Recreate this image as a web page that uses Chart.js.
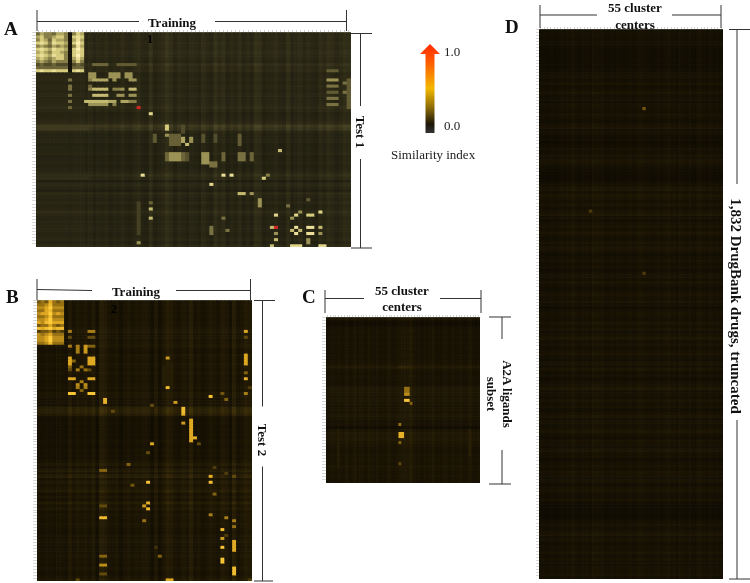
<!DOCTYPE html>
<html>
<head>
<meta charset="utf-8">
<script src="https://cdn.jsdelivr.net/npm/chart.js@4"></script>
<style>
    html, body { margin: 0; background: #fff; }
    #page { position: relative; width: 750px; height: 583px; overflow: hidden; }
    .panel { position: absolute; filter: blur(0.6px); }
    svg { position: absolute; left: 0; top: 0; }
    text { font-family: "Liberation Serif", serif; fill: #111; }
    .head { font-weight: bold; font-size: 13px; text-anchor: middle; }
    .letter { font-weight: bold; font-size: 19px; }
    .plain { font-size: 13px; fill: #222; }
</style>
</head>
<body>
<div id="page">
    <div class="panel" style="left:32px;top:30px;width:319px;height:217px"><canvas id="panel-a"></canvas></div>
    <div class="panel" style="left:33px;top:300px;width:219px;height:281px"><canvas id="panel-b"></canvas></div>
    <div class="panel" style="left:322px;top:315px;width:158px;height:168px"><canvas id="panel-c"></canvas></div>
    <div class="panel" style="left:536px;top:27px;width:187px;height:552px"><canvas id="panel-d"></canvas></div>
    <svg width="750" height="583" stroke="#333" stroke-width="1" fill="none">
        <defs>
            <linearGradient id="simGrad" x1="0" y1="0" x2="0" y2="1">
                <stop offset="0" stop-color="#ff2a00"/>
                <stop offset="0.2" stop-color="#ff5a00"/>
                <stop offset="0.5" stop-color="#f2b800"/>
                <stop offset="0.72" stop-color="#8a6a08"/>
                <stop offset="0.9" stop-color="#1c1608"/>
                <stop offset="1" stop-color="#333"/>
            </linearGradient>
        </defs>
        <!-- A -->
        <path d="M37 10V31M346.5 10V31M37 21.5H139M215 21.5H346.5"/>
        <path d="M351 33.5H372M360.5 33.5V106M360.5 159V248M351 248H372"/>
        <!-- B -->
        <path d="M37 279V300M250.5 279V300M37 289.5L92 290.5M176 290.5H250.5"/>
        <path d="M254 300.5H275M262.5 300.5V406.5M262.5 466.5V581M254 581H273"/>
        <!-- C -->
        <path d="M325 290V313M481 290V313M325 298.5H364M440 298.5H481"/>
        <path d="M489 317H511M502 317V339M502 450V484M489 484H511"/>
        <!-- D -->
        <path d="M540 5V28M721 5V28M540 15H597M672 15H721"/>
        <path d="M729 29.5H750M737 29.5V184M737 420V579M729 579H750"/>
        <!-- similarity arrow -->
        <path d="M430 44L440 54H434.5V133H425.5V54H420Z" fill="url(#simGrad)" stroke="none"/>
        <g stroke="none">
            <text class="letter" x="4" y="35">A</text>
            <text class="letter" x="6" y="303">B</text>
            <text class="letter" x="302" y="303">C</text>
            <text class="letter" x="505" y="33">D</text>
            <text class="head" x="172" y="27">Training</text>
            <text class="head" x="136" y="296">Training</text>
            <text class="plain" x="150" y="43" text-anchor="middle" style="font-weight:bold;fill:#000">1</text>
            <text class="plain" x="114" y="313" text-anchor="middle" style="font-weight:bold;fill:#000">2</text>
            <text class="head" x="402" y="295">55 cluster</text>
            <text class="head" x="402" y="311">centers</text>
            <text class="head" x="635" y="12">55 cluster</text>
            <text class="head" x="635" y="29">centers</text>
            <text class="head" transform="translate(355.5 132) rotate(90)">Test 1</text>
            <text class="head" transform="translate(258 440) rotate(90)">Test 2</text>
            <text class="head" transform="translate(503 394) rotate(90)">A2A ligands</text>
            <text class="head" transform="translate(487 394) rotate(90)">subset</text>
            <text class="head" style="font-size:15px" transform="translate(731 306) rotate(90)">1,832 DrugBank drugs, truncated</text>
            <text class="plain" x="444" y="56">1.0</text>
            <text class="plain" x="444" y="130">0.0</text>
            <text class="plain" x="391" y="159">Similarity index</text>
        </g>
    </svg>
</div>
<script>
// column and row background levels, patches are [col0, col1, row0, row1, value]
const aColShade = [.08,.08,.08,.08,.08,.08,.08,.08,.07,.08,.08,.08,
    .06,.08,.05,.07,.06,.08,.05,.07,.06,.09,.06,.05,.08,
    .1,.06,.05,.12,.05,.07,.09,.13,.1,.05,.09,.07,.05,.08,.07,
    .05,.1,.07,.05,.12,.08,.11,.05,.08,.06,.1,.05,.08,.05,.12,
    .11,.05,.07,.07,.09,.06,.05,.11,.05,.07,.09,.05,.08,.06,.05,.1,.07,.11,.09,.06,.08,.11,.1];
const aRowShade = [.08,.09,.08,.1,.09,.08,.1,.09,.08,.07,.12,.09,.1,
    .06,.07,.08,.06,.08,.07,.06,.08,.06,.07,.08,.1,
    .08,.05,.06,.07,.09,.16,.14,.07,.05,.05,.06,
    .04,.05,.05,.07,.04,.05,.06,.04,.05,.07,
    .11,.08,.02,.08,.06,.03,.09,.07,.05,.08,.05,
    .06,.1,.07,.05,.06,.05,.06,.07,.05,.06,.08,.05,.09];
const aBlock = ['465546650576','675567750787','576476650686','787587760797','565465650586','787687760797',
    '676577650787','787687750797','676567750686','565465550575','343343330343','444444440444','787787770787'];
const aPatches = [
    [14,17,10,10,.4],[20,24,10,10,.36],[13,14,13,14,.55],[18,20,13,14,.55],[22,23,13,14,.55],
    [14,17,15,15,.6],[13,13,15,15,.5],[19,19,15,15,.55],[23,24,15,15,.55],[13,13,17,17,.4],
    [14,17,18,18,.65],[13,13,18,18,.5],[19,20,18,18,.5],[21,21,18,18,.55],[23,24,18,18,.65],
    [14,17,20,20,.65],[20,21,20,20,.55],[23,24,20,20,.55],[12,14,22,22,.65],[15,17,22,22,.65],
    [18,19,22,22,.6],[21,22,22,22,.6],[23,24,22,22,.5],[13,14,23,23,.55],[15,17,23,23,.55],[19,19,23,23,.5],
    [8,8,15,15,.45],[8,8,17,18,.45],[8,8,20,20,.45],[8,8,22,22,.45],[8,8,24,24,.4],
    [72,74,12,12,.36],[72,74,15,15,.55],[72,74,17,17,.45],[72,74,19,19,.36],[72,74,21,21,.45],[72,74,23,23,.45],
    [76,76,16,16,.45],[76,76,19,19,.45],[77,77,15,24,.36],
    [25,25,24,24,1],[28,28,26,26,.75],[32,32,30,31,.7],[32,32,33,33,.55],[36,36,30,32,.3],
    [29,29,33,35,.35],[33,35,33,36,.38],[36,36,34,35,.6],[37,37,36,36,.65],[38,38,34,35,.55],
    [41,41,33,35,.32],[44,44,33,35,.3],[50,50,33,36,.36],
    [32,32,39,41,.4],[33,35,39,41,.55],[36,36,39,41,.4],[37,37,39,41,.32],[41,42,39,42,.55],
    [46,46,39,41,.4],[50,51,39,41,.45],[53,53,39,41,.4],[43,44,42,43,.45],
    [26,26,46,46,.8],[46,46,46,46,.8],[48,48,46,46,.8],[43,43,49,49,.75],[56,56,47,47,.7],[57,57,46,46,.5],
    [60,60,38,38,.65],[50,51,52,52,.65],[53,53,52,52,.55],[55,55,54,56,.55],
    [28,28,55,55,.4],[28,28,57,57,.65],[28,28,60,60,.65],[25,25,55,65,.26],[62,62,56,56,.45],[67,67,54,54,.36],
    [59,59,59,59,.75],[59,59,63,63,1],[58,58,63,63,.65],[59,59,65,65,.55],[58,58,69,69,.65],[59,59,67,67,.65],
    [64,64,59,59,.75],[63,63,60,60,.55],[65,65,58,58,.55],[64,64,63,63,.8],[63,63,64,64,.65],[65,65,64,64,.65],[64,64,65,65,.8],
    [67,68,59,59,.7],[70,70,58,58,.75],[67,68,63,63,.8],[67,68,65,65,.8],[70,70,63,63,.65],[70,70,65,65,.55],
    [63,65,69,69,.75],[67,67,67,68,.55],[70,71,69,69,.75],[43,43,63,65,.45],[47,47,64,64,.45],[25,25,68,68,.55],[46,46,60,60,.45],
    [0,12,30,31,.24],[0,12,46,47,.18]
];

const bColShade = [.05,.04,.06,.05,.04,.06,.05,.04,
    .1,.05,.08,.06,.08,.05,.09,.02,
    .12,.1,.06,.05,.07,.02,.06,.08,.05,.07,.06,.08,
    .07,.02,.09,.02,.07,.12,.1,.06,.05,.08,.06,
    .12,.05,.07,.04,.06,.09,.07,.05,.1,.08,.03,.12,.05,.07,.11,.09];
const bRowShade = [.05,.06,.05,.06,.05,.06,.05,.06,.05,.06,.08,.06,.07,.05,.06,
    .08,.05,.04,.07,.06,.05,.07,.06,.05,.07,.05,.06,.05,.06,.07,.05,.08,
    .07,.05,.06,.05,.13,.14,.12,.04,.03,.04,.03,.04,.03,.04,.03,.05,.04,.03,.05,.04,
    .05,.04,.06,.09,.05,.1,.07,.12,.05,.09,.06,.08,.11,.05,.08,.05,.11,.06,.09,.05,
    .07,.06,.05,.07,.06,.05,.04,.06,.05,.07,.05,.04,.06,.05,.07,.05,.06,.05,.07,.05,.04,.06,.09];
const bBlock = ['4547545','5568555','6679666','5578555','6779676','5568555','6679666','7689777',
    '4557545','8789788','3445343','6567555','6679666','6679666','5568555'];
const bPatches = [
    [8,8,10,10,.55],[13,14,10,10,.55],[8,8,12,12,.36],[13,14,12,12,.36],
    [8,8,15,15,.55],[10,10,15,17,.55],[12,12,15,17,.65],[13,14,15,15,.45],
    [8,8,19,21,.7],[9,9,20,20,.45],[13,14,19,21,.7],[8,8,22,22,.45],[10,10,23,23,.55],[11,11,22,22,.5],[12,12,23,23,.5],
    [8,8,23,23,.36],[13,13,23,23,.36],[8,9,26,26,.7],[13,14,26,26,.7],[10,10,28,28,.6],[11,11,27,27,.55],[12,12,28,28,.6],
    [8,9,31,31,.85],[13,14,31,31,.85],[10,10,29,29,.55],[12,12,29,29,.55],[11,11,30,30,.45],
    [33,33,19,19,.65],[33,33,24,24,.75],[33,33,27,27,.75],[33,33,29,29,.8],[32,34,22,28,.18],
    [53,53,10,10,.7],[53,53,12,12,.36],[53,53,18,21,.7],[53,53,24,24,.45],[53,53,26,26,.75],[53,53,31,31,.55],[54,54,29,29,.3],
    [17,17,33,34,.75],[19,19,37,37,.36],[29,29,35,35,.36],[35,35,34,34,.65],[44,44,32,32,.85],[47,47,31,31,.4],[48,48,33,33,.45],
    [37,37,36,37,.8],[37,37,38,38,.75],[37,37,41,41,.65],[39,39,40,47,.7],[40,40,46,46,.75],[41,41,48,48,.36],[29,29,48,48,.7],[28,28,51,51,.36],
    [23,23,55,55,.45],[16,17,57,57,.45],[44,44,59,59,.75],[44,44,61,61,.85],[45,45,56,56,.3],[48,48,58,58,.3],[50,50,59,59,.36],
    [28,28,61,61,.85],[24,24,62,62,.4],[45,45,65,65,.45],[28,28,68,68,.75],[27,27,69,69,.65],[28,28,70,70,.8],[16,17,69,69,.36],
    [16,17,73,73,.8],[44,44,72,72,.55],[48,48,73,73,.55],[27,27,74,74,.5],[50,50,74,74,.55],
    [47,47,77,77,.8],[50,50,76,76,.5],[47,47,80,80,.65],[47,47,83,83,.85],[47,47,87,88,.85],[50,50,81,84,.7],[48,48,79,79,.3],
    [16,17,86,86,.45],[16,17,89,89,.6],[16,17,92,92,.36],[31,31,86,86,.45],[50,50,90,92,.8],[33,34,94,94,.7],[10,10,94,94,.36],[54,54,94,94,.3],[30,30,83,83,.26]
];

const cColShade = [.04,.05,.06,.05,.07,.06,.05,.08,.05,.06,.09,.05,.07,.06,.05,.08,.06,.05,
    .07,.05,.06,.05,.08,.06,.05,.07,.08,.08,.09,.09,.12,.07,.05,.06,.05,.07,.05,.06,.08,.05,.06,.05,
    .07,.06,.05,.08,.05,.06,.07,.05,.06,.09,.05,.04,.06];
const cRowShade = [.06,.0,.0,.04,.05,.04,.05,.04,.05,.04,.05,.04,.05,.04,.05,.06,.1,.05,.04,.05,.04,.03,.04,
    .08,.07,.07,.06,.07,.06,.05,.06,.05,.07,.06,.04,.05,.0,.06,.09,.08,.09,.07,.06,.05,.04,.06,.05,.06,.05,.07,.06,.05,.06,.05,.04];
const cPatches = [
    [28,29,23,24,.5],[28,29,25,25,.6],[28,29,27,27,.85],[30,30,28,28,.45],
    [26,26,35,35,.5],[26,27,38,39,.75],[26,26,41,41,.45],[26,26,48,48,.35],[26,30,16,16,.22],[4,4,37,49,.17],[51,51,37,45,.2]
];

const dColShade = [.03,.03,.02,.03,.02,.03,.04,.03,.05,.04,.06,.04,.03,.04,.05,.03,.06,.06,.05,.04,.03,
    .04,.03,.05,.04,.03,.04,.05,.03,.05,.06,.05,.04,.03,.04,.05,.03,.05,.06,.04,.05,.03,.05,.04,.03,
    .04,.03,.05,.05,.04,.03,.05,.03,.04,.03];
const dRowShade = [
    .04,.05,.04,.03,.04,.03,.02,.03,.02,.03,.02,.03,.02,.03,.05,.06,.04,.07,.03,.05,.08,.04,.05,.03,.06,.05,
    .04,.07,.05,.03,.06,.08,.04,.05,.02,.04,.01,.03,.06,.04,.07,.05,.08,.06,.04,.03,.02,.01,.02,.04,.06,.08,
    .05,.09,.07,.05,.08,.04,.07,.09,.05,.03,.06,.08,.05,.09,.06,.04,.07,.05,.08,.06,.03,.05,.07,.04,.06,.02,
    .05,.07,.04,.08,.05,.03,.06,.08,.05,.07,.04,.02,.05,.07,.06,.04,.08,.05,.07,.03,.06,.09,.05,.07,.04,.06,
    .08,.05,.03,.07,.05,.08,.04,.06,.02,.05,.07,.09,.05,.06,.04,.08,.05,.07,.03,.06,.08,.04,.07,.05,.06,.09,
    .05,.03,.07,.06,.04,.08,.05,.06,.02,.05,.07,.04,.08,.06,.05,.07,.03,.06,.08,.05,.04,.07,.02,.01,.01,.02,
    .01,.02,.05,.07,.04,.06,.08,.05,.07,.03,.06,.05,.08,.04,.07,.05,.03,.06,.05,.07,.04];
const dPatches = [[31,31,25,25,.4],[31,31,78,78,.3],[15,15,58,58,.3]];

// colour stops: [value, r, g, b]
const paleStops = [[0,22,20,10],[.1,33,31,16],[.2,50,47,25],[.3,80,75,42],[.5,135,126,72],[.7,215,204,125],[.9,252,240,180],[.96,252,240,180],[1,205,40,35]];
const goldStops = [[0,10,8,2],[.1,24,18,4],[.2,42,32,6],[.3,76,58,10],[.5,150,112,18],[.7,222,168,34],[.9,255,205,60],[1,255,70,20]];

function cellColor(stops, v) {
    v = Math.min(v, 1);
    for (let i = 1; i < stops.length; i++) {
        if (v <= stops[i][0]) {
            const a = stops[i - 1];
            const b = stops[i];
            const t = (v - a[0]) / (b[0] - a[0]);
            return `rgb(${[1, 2, 3].map(k => Math.round(a[k] + (b[k] - a[k]) * t)).join(',')})`;
        }
    }
    return 'rgb(255,70,20)';
}

function buildMatrix(colShade, rowShade, patches, block) {
    const rows = rowShade.map(r => colShade.map(c => r + c));
    (block || []).forEach((line, r) => {
        line.split('').forEach((d, c) => { rows[r][c] = Number(d) / 10; });
    });
    patches.forEach(([c0, c1, r0, r1, v]) => {
        for (let r = r0; r <= r1; r++) {
            for (let c = c0; c <= c1; c++) {
                rows[r][c] = v;
            }
        }
    });
    return rows;
}

function createPanel(id, matrix, stops, tick, topTick) {
    const ctx = document.getElementById(id).getContext('2d');
    new Chart(ctx, {
        type: 'bar',
        data: {
            labels: matrix[0].map((_, c) => c),
            // one stacked dataset per row, each cell one unit tall
            datasets: matrix.map(row => ({
                data: row.map(() => 1),
                backgroundColor: row.map(v => cellColor(stops, v)),
                borderWidth: 0,
                barPercentage: 1,
                categoryPercentage: 1
            }))
        },
        options: {
            responsive: true,
            maintainAspectRatio: false,
            animation: false,
            events: [],
            layout: { padding: 0 },
            plugins: { legend: { display: false }, tooltip: { enabled: false } },
            scales: {
                x: {
                    stacked: true,
                    position: 'top',
                    display: topTick > 0,
                    border: { display: false },
                    ticks: { display: false, autoSkip: false },
                    grid: { drawOnChartArea: false, color: '#d2d2d2', tickLength: topTick, offset: false }
                },
                y: {
                    stacked: true,
                    reverse: true,
                    min: 0,
                    max: matrix.length,
                    border: { display: false },
                    ticks: { display: false, stepSize: 1, autoSkip: false },
                    grid: { drawOnChartArea: false, color: '#d8d8d8', tickLength: tick }
                }
            }
        }
    });
}

createPanel('panel-a', buildMatrix(aColShade, aRowShade, aPatches, aBlock), paleStops, 4, 2);
createPanel('panel-b', buildMatrix(bColShade, bRowShade, bPatches, bBlock), goldStops, 4, 0);
createPanel('panel-c', buildMatrix(cColShade, cRowShade, cPatches), goldStops, 4, 2);
createPanel('panel-d', buildMatrix(dColShade, dRowShade, dPatches), goldStops, 3, 2);
</script>
</body>
</html>
